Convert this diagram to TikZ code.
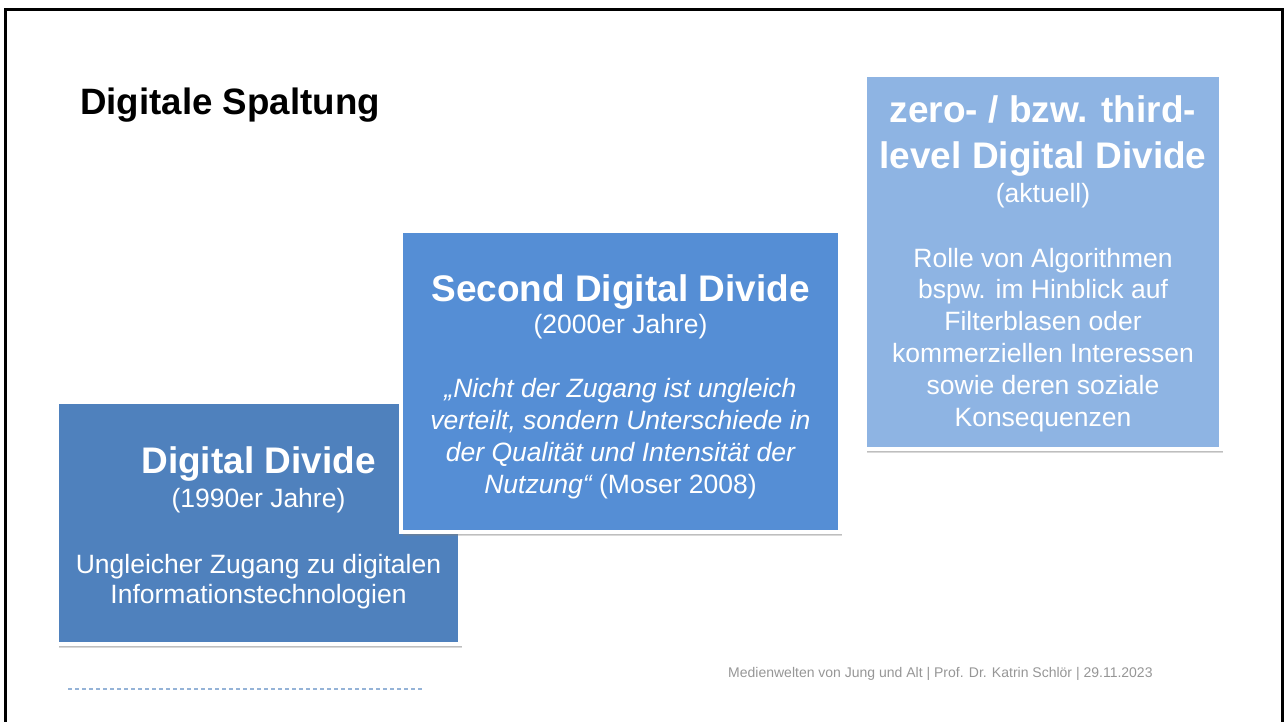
\documentclass[tikz,border=0pt]{standalone}
\usepackage{fontspec}
\setmainfont{Liberation Sans}
\usetikzlibrary{shadows}

\definecolor{ddone}{RGB}{79,129,189}
\definecolor{ddtwo}{RGB}{85,142,213}
\definecolor{ddthree}{RGB}{142,180,227}
\definecolor{footgray}{RGB}{150,150,150}
\definecolor{dashblue}{RGB}{149,179,215}

\begin{document}
\begin{tikzpicture}[
		x=1pt, y=-1pt,
		stage/.style={rectangle, draw=white, line width=4pt, inner sep=0pt, outer sep=0pt,
			drop shadow={shadow xshift=0pt, shadow yshift=0pt, opacity=.15, shadow scale=1.006},
			drop shadow={shadow xshift=2pt, shadow yshift=-2.5pt, opacity=.3},
			drop shadow={shadow xshift=1.5pt, shadow yshift=-4pt, opacity=.3}},
		head/.style={anchor=base, inner sep=0pt, text=white, align=center,
			font=\fontsize{37}{45}\selectfont\bfseries},
		sub/.style={anchor=base, inner sep=0pt, text=white,
			font=\fontsize{26.5}{32}\selectfont},
		body/.style={anchor=base, inner sep=0pt, text=white, align=center,
			font=\fontsize{26.5}{32}\selectfont}
	]

	\useasboundingbox (0,0) rectangle (1284,722);
	\draw[line width=3pt] (5.5,722) -- (5.5,10) -- (1282,10) -- (1282,722);

	\node[anchor=base west, inner sep=0pt, font=\fontsize{36.7}{44}\selectfont\bfseries] (title) at (80,115) {Digitale Spaltung};

	% first stage (base of a multi-line node = its last line)
	\node[stage, fill=ddone, minimum width=403pt, minimum height=242pt] (dd1) at (258.5,523) {};
	\node[head] (dd1t) at (258.5,473) {Digital Divide};
	\node[sub] (dd1s) at (258.5,507) {(1990er Jahre)};
	\node[body, font=\fontsize{26.5}{30}\selectfont] (dd1b) at (258.5,603) {Ungleicher Zugang zu digitalen\\Informationstechnologien};

	% second stage
	\node[stage, fill=ddtwo, minimum width=439pt, minimum height=301pt] (dd2) at (620.5,381.5) {};
	\node[head] (dd2t) at (620.5,301) {Second Digital Divide};
	\node[sub] (dd2s) at (620.5,333) {(2000er Jahre)};
	\node[body, font=\fontsize{26.5}{31.7}\selectfont\itshape] (dd2b) at (620.5,493) {„Nicht der Zugang ist ungleich\\verteilt, sondern Unterschiede in\\der Qualität und Intensität der\\Nutzung“ {\upshape(Moser 2008)}};

	% third stage
	\node[stage, fill=ddthree, minimum width=356pt, minimum height=374pt] (dd3) at (1043,262) {};
	\node[head] (dd3t) at (1043,168) {zero- / bzw. third-\\level Digital Divide};
	\node[sub] (dd3s) at (1043,202) {(aktuell)};
	\node[body, font=\fontsize{26.5}{31.8}\selectfont] (dd3b) at (1043,426) {Rolle von Algorithmen\\bspw. im Hinblick auf\\Filterblasen oder\\kommerziellen Interessen\\sowie deren soziale\\Konsequenzen};

	% footer
	\coordinate (rulel) at (68,689);
	\coordinate (ruler) at (423,689);
	\draw[dashblue, line width=1.5pt, dash pattern=on 4pt off 3pt] (rulel) -- (ruler);
	\node[anchor=base west, inner sep=0pt, text=footgray, font=\fontsize{14}{17}\selectfont] (foot) at (728,677) {Medienwelten von Jung und Alt | Prof. Dr. Katrin Schlör | 29.11.2023};

\end{tikzpicture}
\end{document}
